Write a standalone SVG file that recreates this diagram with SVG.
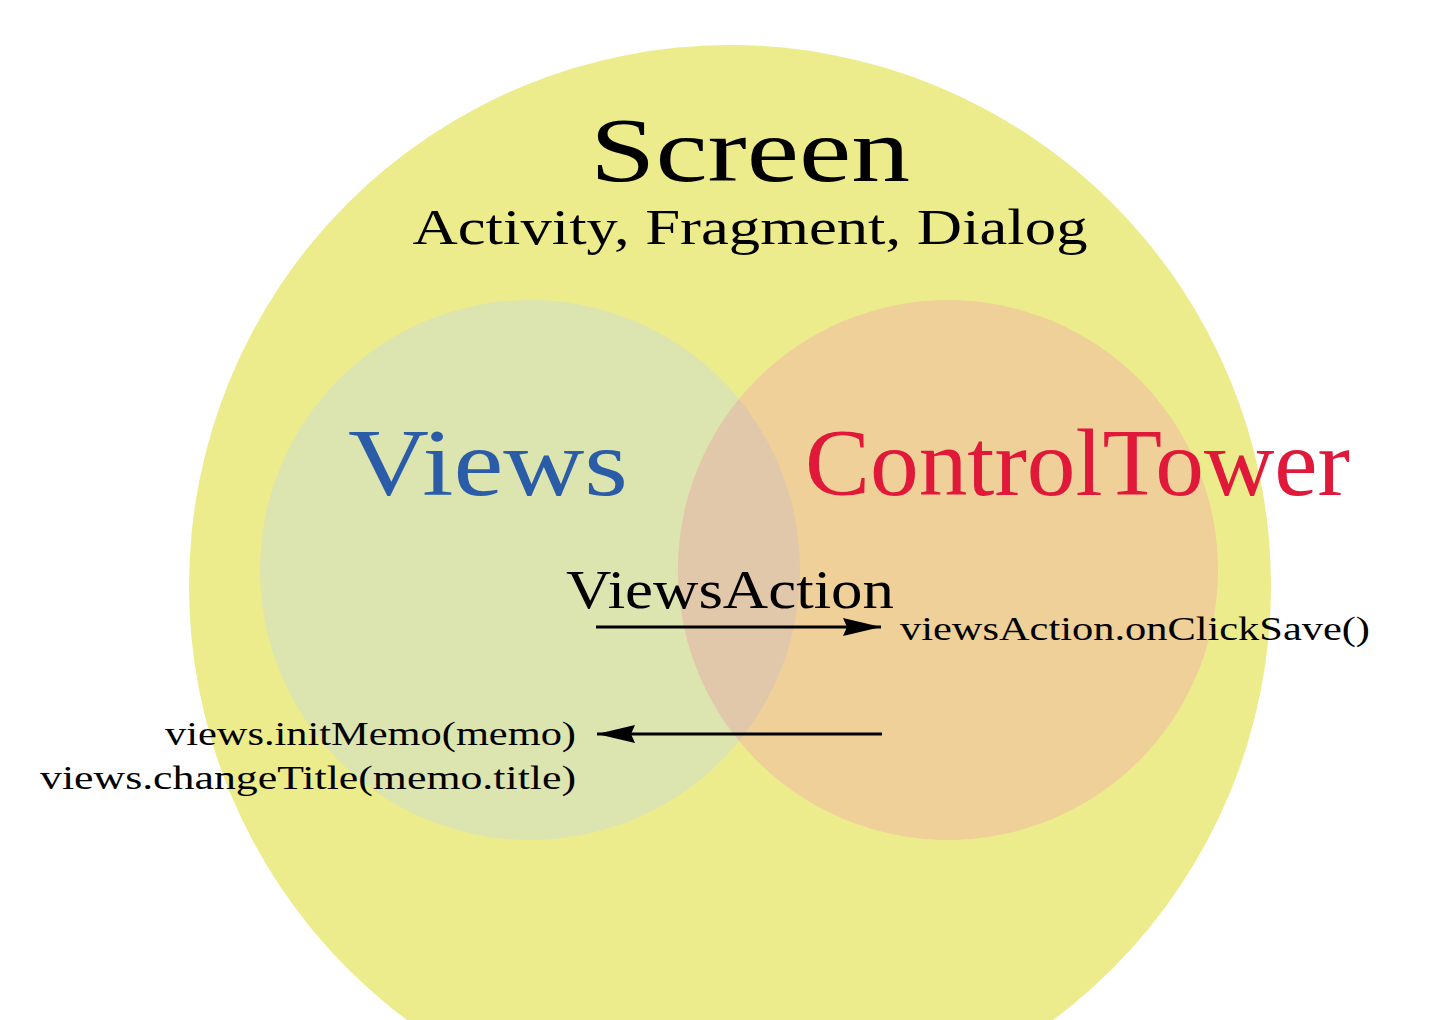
<svg xmlns="http://www.w3.org/2000/svg" width="1446" height="1020" viewBox="0 0 1446 1020">
<style>
text{font-family:"Liberation Serif","DejaVu Serif",serif;fill:#000}
.conn{stroke:#000;stroke-width:3;fill:none}
</style>
<defs>
<marker id="ahL" viewBox="0 0 38 18" refX="38" refY="9" markerWidth="38" markerHeight="18" markerUnits="userSpaceOnUse" orient="auto">
<path d="M0,0 L38,9 L0,18 L4,9 z" fill="#000"/>
</marker>
<clipPath id="vc"><circle cx="530" cy="570" r="270"/></clipPath>
</defs>
<rect width="1446" height="1020" fill="#fff"/>
<g id="screen">
<circle cx="730" cy="586" r="541" fill="#ECEC8C"/>
<text x="750" y="181" font-size="90" text-anchor="middle" textLength="320" lengthAdjust="spacingAndGlyphs">Screen</text>
<text x="750" y="244" font-size="50" text-anchor="middle" textLength="675" lengthAdjust="spacingAndGlyphs">Activity, Fragment, Dialog</text>
</g>
<g id="views">
<circle cx="530" cy="570" r="270" fill="#DCE4B0"/>
<text x="348" y="495" font-size="96" style="fill:#2A5CA8" textLength="280" lengthAdjust="spacingAndGlyphs">Views</text>
</g>
<g id="controltower">
<circle cx="948" cy="570" r="270" fill="#EED098"/>
<circle cx="948" cy="570" r="270" fill="#E2C8AA" clip-path="url(#vc)"/>
<text x="805" y="495" font-size="96" style="fill:#E0183A" textLength="545" lengthAdjust="spacingAndGlyphs">ControlTower</text>
</g>
<g id="connectors">
<line class="conn" x1="596" y1="627" x2="881" y2="627" marker-end="url(#ahL)"/>
<line class="conn" x1="882" y1="734" x2="597" y2="734" marker-end="url(#ahL)"/>
</g>
<g id="labels">
<text x="566" y="608" font-size="54" textLength="328" lengthAdjust="spacingAndGlyphs">ViewsAction</text>
<text x="900" y="640" font-size="33" textLength="470" lengthAdjust="spacingAndGlyphs">viewsAction.onClickSave()</text>
<text x="576" y="745" font-size="33" text-anchor="end" textLength="411" lengthAdjust="spacingAndGlyphs">views.initMemo(memo)</text>
<text x="576" y="789" font-size="33" text-anchor="end" textLength="536" lengthAdjust="spacingAndGlyphs">views.changeTitle(memo.title)</text>
</g>
</svg>
